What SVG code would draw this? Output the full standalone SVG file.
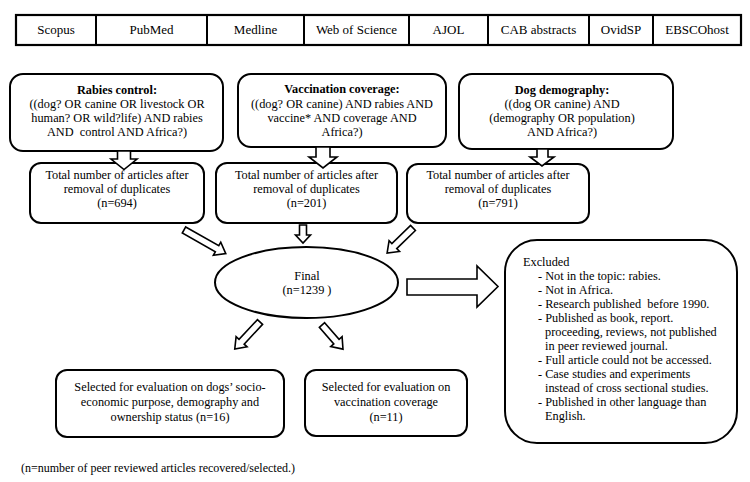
<svg xmlns="http://www.w3.org/2000/svg" width="750" height="482" viewBox="0 0 750 482" font-family="'Liberation Serif', 'Times New Roman', Tinos, 'DejaVu Serif', serif">
<style>
text{font-family:'Liberation Serif','Times New Roman',Tinos,'DejaVu Serif',serif;font-size:12.3px;fill:#000}
.c{text-anchor:middle}
.tb{font-size:13px}
.b{font-weight:bold}
.box{fill:#fff;stroke:#000;stroke-width:2}
.arr{fill:#fff;stroke:#000;stroke-width:1.6;stroke-linejoin:miter}
.ln{stroke:#000;stroke-width:2}
</style>
<rect width="750" height="482" fill="#fff"/>
<g id="databases">
<rect x="16" y="15" width="725" height="30" fill="#fff" stroke="#000" stroke-width="2.2"/>
<line class="ln" x1="96" y1="15" x2="96" y2="45"/>
<line class="ln" x1="207" y1="15" x2="207" y2="45"/>
<line class="ln" x1="304" y1="15" x2="304" y2="45"/>
<line class="ln" x1="409" y1="15" x2="409" y2="45"/>
<line class="ln" x1="488" y1="15" x2="488" y2="45"/>
<line class="ln" x1="589" y1="15" x2="589" y2="45"/>
<line class="ln" x1="653" y1="15" x2="653" y2="45"/>
<text class="c tb" x="56" y="34">Scopus</text>
<text class="c tb" x="151.5" y="34">PubMed</text>
<text class="c tb" x="255.5" y="34">Medline</text>
<text class="c tb" x="356.5" y="34">Web of Science</text>
<text class="c tb" x="448.5" y="34">AJOL</text>
<text class="c tb" x="538.5" y="34">CAB abstracts</text>
<text class="c tb" x="621" y="34">OvidSP</text>
<text class="c tb" x="697" y="34">EBSCOhost</text>
</g>
<g id="rabies-control">
<rect class="box" x="10" y="74" width="213" height="77" rx="13"/>
<text class="c b" x="117" y="94">Rabies control:</text>
<text class="c" x="117" y="108">((dog? OR canine OR livestock OR</text>
<text class="c" x="117" y="122">human? OR wild?life) AND rabies</text>
<text class="c" x="117" y="136" xml:space="preserve">AND  control AND Africa?)</text>
</g>
<g id="vaccination-coverage">
<rect class="box" x="238" y="74" width="208" height="73" rx="13"/>
<text class="c b" x="342" y="93">Vaccination coverage:</text>
<text class="c" x="342" y="108">((dog? OR canine) AND rabies AND</text>
<text class="c" x="342" y="122">vaccine* AND coverage AND</text>
<text class="c" x="342" y="136">Africa?)</text>
</g>
<g id="dog-demography">
<rect class="box" x="459" y="74" width="214" height="75" rx="13"/>
<text class="c b" x="562" y="94">Dog demography:</text>
<text class="c" x="562" y="108">((dog OR canine) AND</text>
<text class="c" x="562" y="122">(demography OR population)</text>
<text class="c" x="562" y="136">AND Africa?)</text>
</g>
<g id="total-694">
<rect class="box" x="30" y="163" width="174" height="60" rx="11"/>
<text class="c" x="117" y="179">Total number of articles after</text>
<text class="c" x="117" y="193">removal of duplicates</text>
<text class="c" x="117" y="207">(n=694)</text>
</g>
<g id="total-201">
<rect class="box" x="216" y="163" width="181" height="60" rx="11"/>
<text class="c" x="306.5" y="179">Total number of articles after</text>
<text class="c" x="306.5" y="193">removal of duplicates</text>
<text class="c" x="306.5" y="207">(n=201)</text>
</g>
<g id="total-791">
<rect class="box" x="407" y="164" width="182" height="59" rx="11"/>
<text class="c" x="498" y="179">Total number of articles after</text>
<text class="c" x="498" y="193">removal of duplicates</text>
<text class="c" x="498" y="207">(n=791)</text>
</g>
<g id="final">
<ellipse class="box" cx="306.5" cy="282.5" rx="91.5" ry="35.5"/>
<text class="c" x="307" y="280">Final</text>
<text class="c" x="307" y="294">(n=1239 )</text>
</g>
<g id="excluded">
<rect class="box" x="505" y="240" width="232" height="203" rx="32"/>
<text x="523" y="266">Excluded</text>
<text x="538" y="280">- Not in the topic: rabies.</text>
<text x="538" y="294">- Not in Africa.</text>
<text x="538" y="308" xml:space="preserve">- Research published  before 1990.</text>
<text x="538" y="322">- Published as book, report.</text>
<text x="545" y="336">proceeding, reviews, not published</text>
<text x="545" y="350">in peer reviewed journal.</text>
<text x="538" y="364">- Full article could not be accessed.</text>
<text x="538" y="378">- Case studies and experiments</text>
<text x="545" y="392">instead of cross sectional studies.</text>
<text x="538" y="406">- Published in other language than</text>
<text x="545" y="420">English.</text>
</g>
<g id="selected-demography">
<rect class="box" x="56" y="370" width="228" height="67" rx="11"/>
<text class="c" x="170" y="391">Selected for evaluation on dogs’ socio-</text>
<text class="c" x="170" y="406">economic purpose, demography and</text>
<text class="c" x="170" y="421">ownership status (n=16)</text>
</g>
<g id="selected-vaccination">
<rect class="box" x="305" y="370" width="162" height="66" rx="11"/>
<text class="c" x="386" y="391">Selected for evaluation on</text>
<text class="c" x="386" y="406">vaccination coverage</text>
<text class="c" x="386" y="421">(n=11)</text>
</g>
<g id="connectors">
<polygon class="arr" points="117.5,151 130.5,151 130.5,159 137,159 124,169.5 111,159 117.5,159"/>
<polygon class="arr" points="316,147 330,147 330,157 337,157 323,168 309,157 316,157"/>
<polygon class="arr" points="537,149 548,149 548,157 554,157 542,166 530,157 537,157"/>
<polygon class="arr" points="299.5,225 306.5,225 306.5,235 310.5,235 303,243 295.5,235 299.5,235"/>
<polygon class="arr" transform="translate(184,230) rotate(29.5)" points="0,-3.5 38,-3.5 38,-7.5 48,0 38,7.5 38,3.5 0,3.5"/>
<polygon class="arr" transform="translate(413,228) rotate(136)" points="0,-3.5 26,-3.5 26,-7.5 36,0 26,7.5 26,3.5 0,3.5"/>
<polygon class="arr" transform="translate(260,322) rotate(133)" points="0,-3.5 27,-3.5 27,-7.5 37,0 27,7.5 27,3.5 0,3.5"/>
<polygon class="arr" transform="translate(322,325) rotate(49)" points="0,-3.5 22,-3.5 22,-7.5 32,0 22,7.5 22,3.5 0,3.5"/>
<polygon class="arr" stroke-width="2" points="407,279 477,279 477,266 498,286.5 477,307 477,295 407,295"/>
</g>
<text x="21" y="472" style="font-size:12px">(n=number of peer reviewed articles recovered/selected.)</text>
</svg>
